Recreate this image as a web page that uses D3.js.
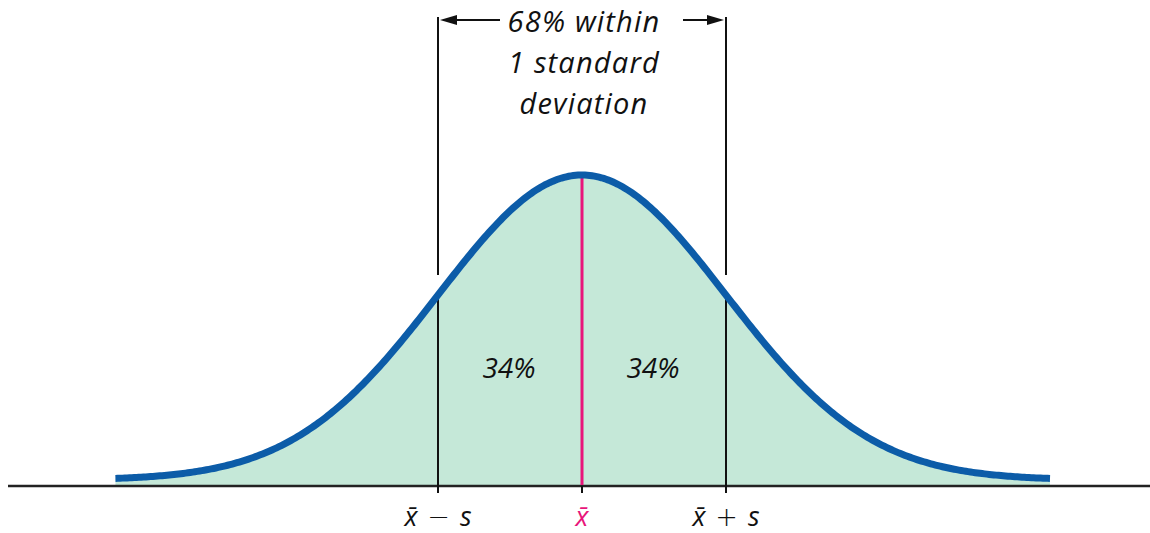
<!DOCTYPE html>
<html>
<head>
<meta charset="utf-8">
<script src="https://cdn.jsdelivr.net/npm/d3@7"></script>
<style>
  html, body { margin: 0; padding: 0; background: #fff; }
  svg { display: block; }
  text { font-family: "Open Sans", "DejaVu Sans", sans-serif; font-style: italic; fill: #111; }
</style>
</head>
<body>
<svg id="chart" width="1150" height="533"></svg>
<script>
// Normal curve parameters, in standard-deviation units
const mean = 0;
const sd = 1;
const curveRange = [-3.24, 3.25];
const sampleCount = 400;

// Reference marks along the axis; each label is [symbol, operator, term]
const tickPositions = [-1, 0, 1];
const tickLabels = [["x\u0304", "\u2212", "s"], ["x\u0304"], ["x\u0304", "+", "s"]];

// Area labels between the marks
const areaCenters = [-0.5, 0.5];
const areaLabels = ["34%", "34%"];

// Bracket caption above the curve
const captionLines = ["68% within", "1 standard", "deviation"];

const svg = d3.select("#chart");

const x = d3.scaleLinear().domain([-1, 1]).range([438, 726]);
const pdf = z => Math.exp(-0.5 * ((z - mean) / sd) ** 2) / (sd * Math.sqrt(2 * Math.PI));
const y = d3.scaleLinear().domain([0, pdf(mean)]).range([480, 175]);
const axisY = 486;

const pts = d3.range(sampleCount + 1).map(i => {
  const z = curveRange[0] + (curveRange[1] - curveRange[0]) * i / sampleCount;
  return [z, pdf(z)];
});

// Shaded area under the curve down to the axis
const area = d3.area()
  .x(d => x(d[0]))
  .y0(axisY)
  .y1(d => y(d[1]));
svg.append("path")
  .datum(pts)
  .attr("d", area)
  .attr("fill", "#c5e8d8");

// Axis line
svg.append("line")
  .attr("x1", 8).attr("x2", 1150)
  .attr("y1", axisY).attr("y2", axisY)
  .attr("stroke", "#222").attr("stroke-width", 2.5);

// Ticks below the axis
svg.selectAll("line.tick")
  .data(tickPositions)
  .join("line")
  .attr("class", "tick")
  .attr("x1", d => x(d)).attr("x2", d => x(d))
  .attr("y1", axisY).attr("y2", axisY + 7)
  .attr("stroke", "#111").attr("stroke-width", 2);

// Vertical lines at ±1 sd: from the curve down to the axis
svg.selectAll("line.sdlow")
  .data([-1, 1])
  .join("line")
  .attr("class", "sdlow")
  .attr("x1", d => x(d)).attr("x2", d => x(d))
  .attr("y1", d => y(pdf(d))).attr("y2", axisY)
  .attr("stroke", "#111").attr("stroke-width", 2);

// Upper bracket lines at ±1 sd
svg.selectAll("line.sdhigh")
  .data([-1, 1])
  .join("line")
  .attr("class", "sdhigh")
  .attr("x1", d => x(d)).attr("x2", d => x(d))
  .attr("y1", 17).attr("y2", d => y(pdf(d)) - 20)
  .attr("stroke", "#111").attr("stroke-width", 2);

// Mean line
svg.append("line")
  .attr("x1", x(mean)).attr("x2", x(mean))
  .attr("y1", y(pdf(mean))).attr("y2", axisY - 1)
  .attr("stroke", "#e8157a").attr("stroke-width", 3);

// Density curve
svg.append("path")
  .datum(pts)
  .attr("d", d3.line().x(d => x(d[0])).y(d => y(d[1])))
  .attr("fill", "none")
  .attr("stroke", "#0c5ca8")
  .attr("stroke-width", 7);

// Arrows of the bracket
const arrowY = 20;
function arrow(xFrom, xTip) {
  const dir = Math.sign(xTip - xFrom);
  const headLen = 17, headHalf = 5;
  svg.append("line")
    .attr("x1", xFrom).attr("x2", xTip - dir * headLen * 0.8)
    .attr("y1", arrowY).attr("y2", arrowY)
    .attr("stroke", "#111").attr("stroke-width", 2);
  svg.append("path")
    .attr("d", `M${xTip},${arrowY} L${xTip - dir * headLen},${arrowY - headHalf} L${xTip - dir * headLen},${arrowY + headHalf} Z`)
    .attr("fill", "#111");
}
arrow(500, x(-1) + 2);
arrow(683, x(1) - 2);

// Caption text
svg.selectAll("text.caption")
  .data(captionLines)
  .join("text")
  .attr("class", "caption")
  .attr("x", x(mean) + 2)
  .attr("y", (d, i) => 32 + i * 41)
  .attr("text-anchor", "middle")
  .attr("font-size", 29)
  .attr("letter-spacing", 1.2)
  .text(d => d);

// Area percentages
svg.selectAll("text.area")
  .data(areaCenters)
  .join("text")
  .attr("class", "area")
  .attr("x", d => x(d) - 1)
  .attr("y", 378)
  .attr("text-anchor", "middle")
  .attr("font-size", 28)
  .text((d, i) => areaLabels[i]);

// Axis labels: symbol, operator and term with wide spacing
const labelG = svg.selectAll("text.ticklabel")
  .data(tickPositions)
  .join("text")
  .attr("class", "ticklabel")
  .attr("x", d => x(d))
  .attr("y", 526)
  .attr("text-anchor", "middle")
  .attr("font-size", 27)
  .style("fill", d => d === mean ? "#e8157a" : "#111");

labelG.selectAll("tspan")
  .data((d, i) => tickLabels[i])
  .join("tspan")
  .attr("dx", (d, j) => j === 0 ? 0 : 10)
  .attr("font-size", 27)
  .attr("font-family", (d, j) => j === 1 ? "DejaVu Sans" : null)
  .attr("font-style", (d, j) => j === 1 ? "normal" : "italic")
  .attr("font-weight", (d, j) => j === 1 ? 300 : 400)
  .text(d => d);
</script>
</body>
</html>
